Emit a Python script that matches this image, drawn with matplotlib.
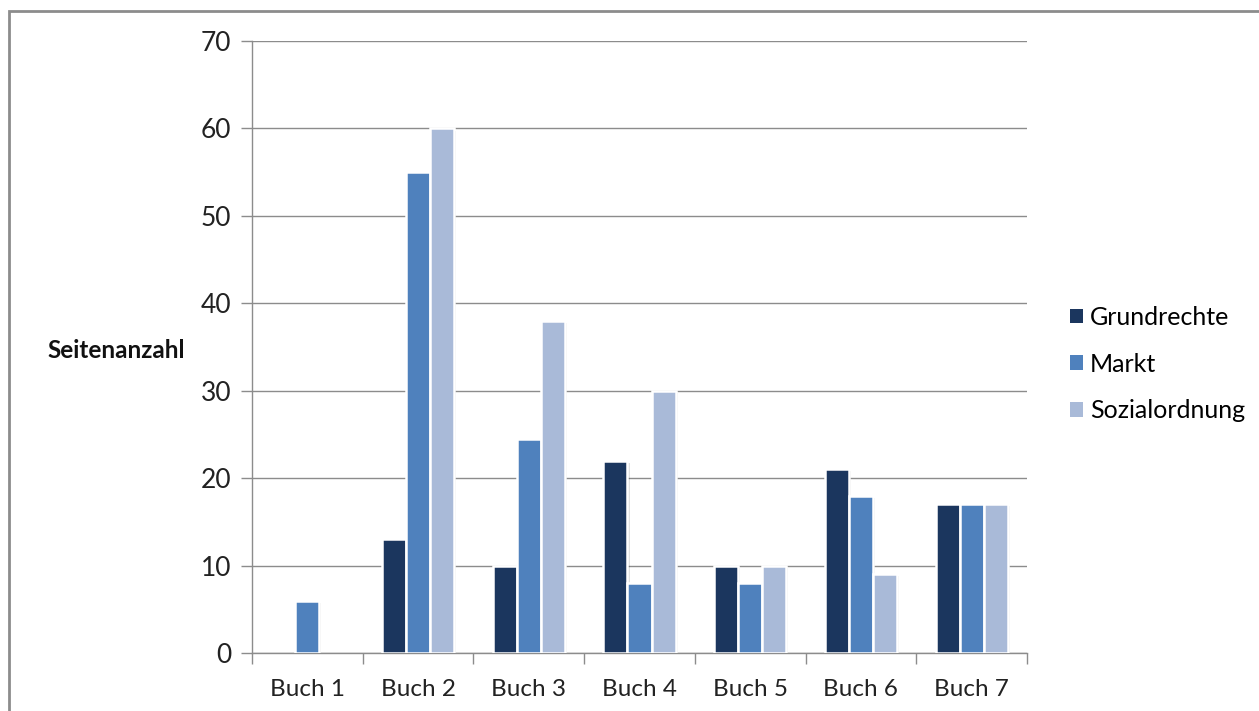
import matplotlib.pyplot as plt
import matplotlib.patheffects as pe
from matplotlib.patches import Rectangle, Patch
import numpy as np

buecher = ["Buch 1", "Buch 2", "Buch 3", "Buch 4", "Buch 5", "Buch 6", "Buch 7"]
grundrechte = [0, 13, 10, 22, 10, 21, 17]
markt = [6, 55, 24.5, 8, 8, 18, 17]
sozialordnung = [0, 60, 38, 30, 10, 9, 17]

serien = [
    ("Grundrechte", grundrechte, "#1b365e"),
    ("Markt", markt, "#4f81bd"),
    ("Sozialordnung", sozialordnung, "#a9bad8"),
]

plt.rcParams['font.family'] = ['Lato', 'DejaVu Sans']

fig = plt.figure(figsize=(12.59, 7.11), dpi=100)
ax = fig.add_axes([252 / 1259, 1 - 653 / 711, 775 / 1259, 612 / 711])

# Rahmen um das Diagramm
fig.patches.append(Rectangle((9 / 1259, -0.1), 1.2, 1 - 11 / 711 + 0.1,
                             transform=fig.transFigure, fill=False,
                             edgecolor="#8c8c8c", linewidth=2))

x = np.arange(len(buecher))
breite = 0.217
schatten = [pe.SimplePatchShadow(offset=(1.5, -1.5), shadow_rgbFace="#000000", alpha=0.12), pe.Normal()]
for i, (name, werte, farbe) in enumerate(serien):
    bars = ax.bar(x + (i - 1) * breite, werte, breite, color=farbe,
                  edgecolor="white", linewidth=1.8, zorder=3)
    for b in bars:
        if b.get_height() > 0:
            b.set_path_effects(schatten)
        else:
            b.set_visible(False)

ax.set_xlim(-0.5, len(buecher) - 0.5)
ax.set_ylim(0, 70)
ax.set_yticks(range(0, 71, 10))
ax.grid(axis="y", color="#8c8c8c", linewidth=1, zorder=0)
ax.set_axisbelow(True)

ax.set_xticks(np.arange(-0.5, len(buecher), 1))
ax.set_xticklabels([])
ax.set_xticks(x, minor=True)
ax.set_xticklabels(buecher, minor=True, fontsize=17.5, color="#222222")
ax.tick_params(axis="x", which="major", length=8, color="#8c8c8c", width=1)
ax.tick_params(axis="x", which="minor", length=0, pad=19)
ax.tick_params(axis="y", length=8, color="#8c8c8c", width=1, labelsize=19, pad=7, labelcolor="#222222")

for s in ["top", "right"]:
    ax.spines[s].set_visible(False)
for s in ["left", "bottom"]:
    ax.spines[s].set_color("#8c8c8c")
    ax.spines[s].set_linewidth(1)

fig.text(47 / 1259, 1 - 350 / 711, "Seitenanzahl", fontsize=17.5, fontweight="bold",
         va="center", ha="left", color="#111111")

handles = [Patch(facecolor=farbe, edgecolor="none", label=name) for name, _, farbe in serien]
ax.legend(handles=handles, loc="center left", bbox_to_anchor=(1047 / 1259, 1 - 364 / 711),
          bbox_transform=fig.transFigure, frameon=False, fontsize=18,
          handlelength=0.52, handleheight=0.52, handletextpad=0.3, labelspacing=0.95)

fig.savefig("out.png", dpi=100)
